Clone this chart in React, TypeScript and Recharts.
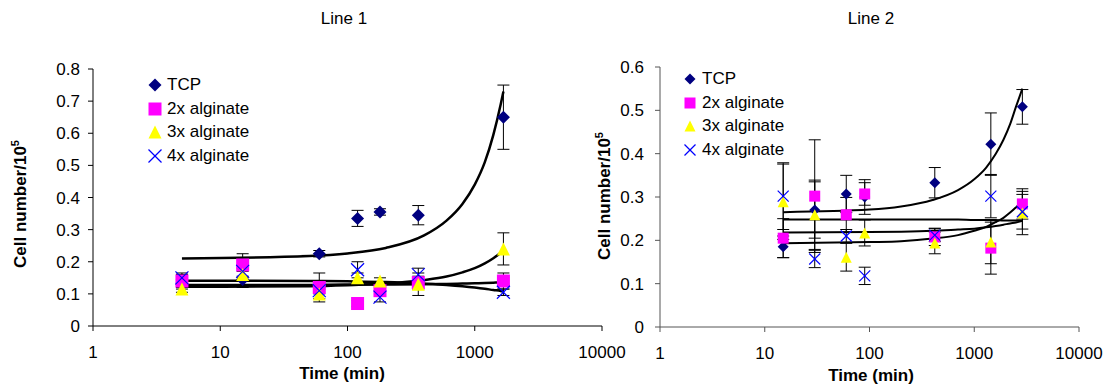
import { ComposedChart, Scatter, Line, XAxis, YAxis, ErrorBar } from "recharts";

const FONT = "'Liberation Sans', Arial, sans-serif";

const seriesNames = ["TCP", "2x alginate", "3x alginate", "4x alginate"];
const seriesColors = ["#000080", "#FF00FF", "#FFFF00", "#0000FF"];
const seriesShapes = ["diamond", "square", "triangle", "x"];

const xTicks = [1, 10, 100, 1000, 10000];
const yTicks1 = [0, 0.1, 0.2, 0.3, 0.4, 0.5, 0.6, 0.7, 0.8];
const yTicks2 = [0, 0.1, 0.2, 0.3, 0.4, 0.5, 0.6];

// Line 1 measurements (time in min, cell number / 10^5)
const times1 = [5, 15, 60, 120, 180, 360, 1680];
const tcp1 = [0.13, 0.145, 0.225, 0.335, 0.355, 0.345, 0.65];
const tcp1Err = [0.015, 0.025, 0.01, 0.025, 0.01, 0.03, 0.1];
const alg2x1 = [0.14, 0.19, 0.12, 0.07, 0.11, 0.135, 0.14];
const alg2x1Err = [0.02, 0.035, 0.045, 0.01, 0.01, 0.02, 0.025];
const alg3x1 = [0.115, 0.16, 0.1, 0.15, 0.14, 0.13, 0.24];
const alg3x1Err = [0.01, 0.02, 0.015, 0.015, 0.01, 0.035, 0.05];
const alg4x1 = [0.15, 0.17, 0.11, 0.175, 0.09, 0.16, 0.105];
const alg4x1Err = [0.015, 0.02, 0.01, 0.025, 0.015, 0.02, 0.01];

// Line 1 trend lines
const trendTimes1 = [5, 50, 100, 200, 400, 600, 800, 1000, 1200, 1400, 1600, 1680];
const tcp1Trend = [0.21, 0.218, 0.226, 0.243, 0.282, 0.328, 0.38, 0.44, 0.51, 0.595, 0.69, 0.73];
const alg2x1Trend = [0.128, 0.128, 0.129, 0.129, 0.13, 0.131, 0.132, 0.133, 0.134, 0.135, 0.136, 0.137];
const alg3x1Trend = [0.122, 0.124, 0.127, 0.132, 0.143, 0.154, 0.167, 0.18, 0.195, 0.211, 0.228, 0.235];
const alg4x1Trend = [0.141, 0.14, 0.139, 0.137, 0.132, 0.128, 0.124, 0.12, 0.116, 0.112, 0.109, 0.107];

// Line 2 measurements
const times2 = [15, 30, 60, 90, 420, 1440, 2880];
const tcp2 = [0.185, 0.27, 0.307, 0.3, 0.333, 0.422, 0.508];
const tcp2Err = [0.025, 0.065, 0.043, 0.04, 0.035, 0.072, 0.04];
const alg2x2 = [0.205, 0.302, 0.259, 0.307, 0.208, 0.182, 0.284];
const alg2x2Err = [0.045, 0.13, 0.04, 0.026, 0.02, 0.06, 0.035];
const alg3x2 = [0.289, 0.259, 0.161, 0.217, 0.194, 0.196, 0.263];
const alg3x2Err = [0.087, 0.08, 0.032, 0.03, 0.025, 0.05, 0.05];
const alg4x2 = [0.302, 0.157, 0.21, 0.118, 0.212, 0.302, 0.266];
const alg4x2Err = [0.077, 0.02, 0.015, 0.02, 0.015, 0.05, 0.04];

// Line 2 trend lines
const trendTimes2 = [15, 100, 200, 400, 700, 1000, 1300, 1600, 1900, 2200, 2500, 2880];
const tcp2Trend = [0.265, 0.271, 0.278, 0.293, 0.316, 0.341, 0.368, 0.399, 0.432, 0.468, 0.508, 0.55];
const alg2x2Trend = [0.248, 0.248, 0.248, 0.248, 0.248, 0.247, 0.247, 0.247, 0.246, 0.246, 0.246, 0.245];
const alg3x2Trend = [0.218, 0.219, 0.22, 0.222, 0.225, 0.227, 0.23, 0.233, 0.236, 0.239, 0.241, 0.245];
const alg4x2Trend = [0.193, 0.196, 0.198, 0.204, 0.212, 0.222, 0.231, 0.242, 0.252, 0.264, 0.276, 0.29];

const toPoints = (t: number[], v: number[], e?: number[]) =>
  t.map((x, i) => ({ t: x, v: v[i], e: e ? e[i] : 0 }));

function Marker({ kind, cx, cy, s, color }: { kind: string; cx: number; cy: number; s: number; color: string }) {
  const h = s / 2;
  if (kind === "diamond")
    return <polygon points={`${cx},${cy - h} ${cx + h},${cy} ${cx},${cy + h} ${cx - h},${cy}`} fill={color} />;
  if (kind === "square") return <rect x={cx - h} y={cy - h} width={s} height={s} fill={color} />;
  if (kind === "triangle")
    return <polygon points={`${cx},${cy - h} ${cx + h},${cy + h} ${cx - h},${cy + h}`} fill={color} />;
  return (
    <g stroke={color} strokeWidth={1.2}>
      <line x1={cx - h} y1={cy - h} x2={cx + h} y2={cy + h} />
      <line x1={cx - h} y1={cy + h} x2={cx + h} y2={cy - h} />
    </g>
  );
}

type PanelProps = {
  left: number;
  width: number;
  yWidth: number;
  marginRight: number;
  marginTop: number;
  xHeight: number;
  yTicks: number[];
  yTickMargin: number;
  points: { t: number; v: number; e: number }[][];
  trends: { t: number; v: number; e: number }[][];
  markerSize: number;
  lineWidth: number;
  axisColor: string;
};

function Panel(p: PanelProps) {
  const tickStyle = { fontFamily: FONT, fontSize: 17, fill: "#000" };
  return (
    <div style={{ position: "absolute", left: p.left, top: 0 }}>
      <ComposedChart
        width={p.width}
        height={392}
        margin={{ top: p.marginTop, right: p.marginRight, bottom: 0, left: 0 }}
      >
        <XAxis
          dataKey="t"
          type="number"
          scale="log"
          domain={[1, 10000]}
          ticks={xTicks}
          allowDataOverflow
          height={p.xHeight}
          tickSize={5}
          tickMargin={15}
          stroke={p.axisColor}
          tick={tickStyle}
        />
        <YAxis
          dataKey="v"
          type="number"
          domain={[0, p.yTicks[p.yTicks.length - 1]]}
          ticks={p.yTicks}
          width={p.yWidth}
          tickSize={5}
          tickMargin={p.yTickMargin}
          stroke={p.axisColor}
          tick={tickStyle}
          tickFormatter={(v: number) => String(v)}
        />
        {p.points.map((pts, i) => (
          <Scatter
            key={seriesNames[i]}
            name={seriesNames[i]}
            data={pts}
            dataKey="v"
            isAnimationActive={false}
            shape={(sp: any) => (
              <Marker kind={seriesShapes[i]} cx={sp.cx} cy={sp.cy} s={p.markerSize} color={seriesColors[i]} />
            )}
          >
            <ErrorBar dataKey="e" direction="y" width={6} stroke="#000" strokeWidth={1} isAnimationActive={false} />
          </Scatter>
        ))}
        {p.trends.map((tr, i) => (
          <Line
            key={"trend" + i}
            data={tr}
            dataKey="v"
            type="monotone"
            stroke="#000"
            strokeWidth={p.lineWidth}
            dot={false}
            activeDot={false}
            legendType="none"
            isAnimationActive={false}
          />
        ))}
      </ComposedChart>
    </div>
  );
}

function LegendBox({ left, top, size }: { left: number; top: number; size: number }) {
  return (
    <div style={{ position: "absolute", left, top, fontFamily: FONT, fontSize: 17 }}>
      {seriesNames.map((n, i) => (
        <div key={n} style={{ display: "flex", alignItems: "center", height: 23.7 }}>
          <svg width={14} height={14} style={{ marginRight: 5 }}>
            <Marker kind={seriesShapes[i]} cx={7} cy={7} s={size} color={seriesColors[i]} />
          </svg>
          <span>{n}</span>
        </div>
      ))}
    </div>
  );
}

function Text({ x, y, children, bold, rotate }: { x: number; y: number; children: any; bold?: boolean; rotate?: boolean }) {
  return (
    <div
      style={{
        position: "absolute",
        left: x,
        top: y,
        transform: `translate(-50%, -50%)${rotate ? " rotate(-90deg)" : ""}`,
        whiteSpace: "nowrap",
        fontFamily: FONT,
        fontSize: 17,
        fontWeight: bold ? "bold" : "normal",
        lineHeight: "17px",
      }}
    >
      {children}
    </div>
  );
}

const yLabel = (
  <>
    Cell number/10<span style={{ fontSize: 11, verticalAlign: "super", lineHeight: 0 }}>5</span>
  </>
);

export default function App() {
  const pts1 = [
    toPoints(times1, tcp1, tcp1Err),
    toPoints(times1, alg2x1, alg2x1Err),
    toPoints(times1, alg3x1, alg3x1Err),
    toPoints(times1, alg4x1, alg4x1Err),
  ];
  const trends1 = [tcp1Trend, alg2x1Trend, alg3x1Trend, alg4x1Trend].map((v) => toPoints(trendTimes1, v));
  const pts2 = [
    toPoints(times2, tcp2, tcp2Err),
    toPoints(times2, alg2x2, alg2x2Err),
    toPoints(times2, alg3x2, alg3x2Err),
    toPoints(times2, alg4x2, alg4x2Err),
  ];
  const trends2 = [tcp2Trend, alg2x2Trend, alg3x2Trend, alg4x2Trend].map((v) => toPoints(trendTimes2, v));

  return (
    <div style={{ position: "absolute", left: 0, top: 0, width: 1114, height: 392, background: "#fff", overflow: "hidden" }}>
      <Panel
        left={0}
        width={660}
        yWidth={93}
        marginRight={58}
        marginTop={69}
        xHeight={66}
        yTicks={yTicks1}
        yTickMargin={8}
        points={pts1}
        trends={trends1}
        markerSize={13}
        lineWidth={2.5}
        axisColor="#000"
      />
      <Panel
        left={620}
        width={494}
        yWidth={40}
        marginRight={35}
        marginTop={67}
        xHeight={65}
        yTicks={yTicks2}
        yTickMargin={11}
        points={pts2}
        trends={trends2}
        markerSize={11}
        lineWidth={2}
        axisColor="#555"
      />
      <Text x={344} y={18}>Line 1</Text>
      <Text x={871} y={18}>Line 2</Text>
      <Text x={342} y={373} bold>Time (min)</Text>
      <Text x={871} y={375} bold>Time (min)</Text>
      <Text x={20} y={204} bold rotate>{yLabel}</Text>
      <Text x={604} y={196} bold rotate>{yLabel}</Text>
      <LegendBox left={148} top={73} size={13} />
      <LegendBox left={683} top={67} size={11} />
    </div>
  );
}
